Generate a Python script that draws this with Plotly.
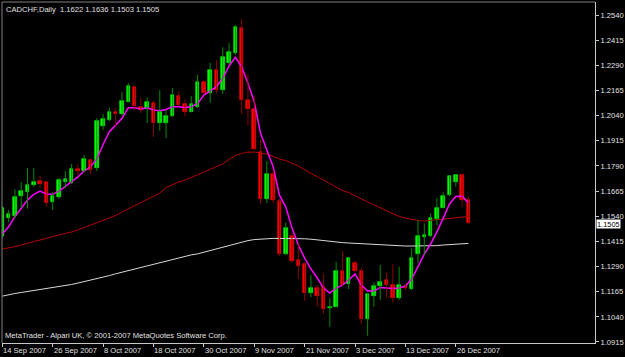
import plotly.graph_objects as go

# ---------------- data ----------------
dates_tick_idx = [0, 8, 16, 24, 32, 40, 48, 56, 64, 72]
dates_tick_text = ["14 Sep 2007", "26 Sep 2007", "8 Oct 2007", "18 Oct 2007", "30 Oct 2007",
                   "9 Nov 2007", "21 Nov 2007", "3 Dec 2007", "13 Dec 2007", "26 Dec 2007"]

price_ticks = [1.0915, 1.1040, 1.1165, 1.1290, 1.1415, 1.1540, 1.1665, 1.1790,
               1.1915, 1.2040, 1.2165, 1.2290, 1.2415, 1.2540]

opens = [1.1442, 1.1531, 1.1541, 1.1640, 1.1663, 1.1695, 1.1715, 1.1708, 1.1611, 1.1638,
         1.1710, 1.1705, 1.1777, 1.1765, 1.1819, 1.1780, 1.1988, 1.2018, 1.2056, 1.2048,
         1.2110, 1.2185, 1.2083, 1.2073, 1.2101, 1.2006, 1.2003, 1.2038, 1.2137, 1.2098,
         1.2060, 1.2083, 1.2207, 1.2152, 1.2267, 1.2167, 1.2301, 1.2351, 1.2474, 1.2118,
         1.2071, 1.1861, 1.1626, 1.1750, 1.1617, 1.1352, 1.1442, 1.1322, 1.1302, 1.1160,
         1.1183, 1.1190, 1.1085, 1.1090, 1.1268, 1.1202, 1.1306, 1.1268, 1.1029, 1.1145,
         1.1195, 1.1223, 1.1198, 1.1132, 1.1195, 1.1178, 1.1351, 1.1437, 1.1443, 1.1526,
         1.1582, 1.1645, 1.1712, 1.1745, 1.1622]
highs = [1.1591, 1.1571, 1.1675, 1.1710, 1.1780, 1.1780, 1.1740, 1.1710, 1.1660, 1.1730,
         1.1765, 1.1800, 1.1800, 1.1844, 1.1824, 1.2028, 1.2048, 1.2080, 1.2079, 1.2157,
         1.2202, 1.2192, 1.2128, 1.2132, 1.2113, 1.2167, 1.2068, 1.2177, 1.2159, 1.2120,
         1.2137, 1.2242, 1.2217, 1.2303, 1.2316, 1.2380, 1.2402, 1.2490, 1.2519, 1.2247,
         1.2137, 1.1919, 1.1816, 1.1770, 1.1626, 1.1508, 1.1457, 1.1402, 1.1312, 1.1248,
         1.1198, 1.1256, 1.1135, 1.1314, 1.1367, 1.1337, 1.1317, 1.1283, 1.1158, 1.1212,
         1.1298, 1.1261, 1.1302, 1.1289, 1.1207, 1.1381, 1.1521, 1.1505, 1.1554, 1.1632,
         1.1659, 1.1742, 1.1745, 1.1752, 1.1636]
lows = [1.1432, 1.1511, 1.1531, 1.1581, 1.1578, 1.1685, 1.1680, 1.1591, 1.1571, 1.1626,
        1.1680, 1.1700, 1.1745, 1.1760, 1.1750, 1.1765, 1.1969, 1.2013, 1.1988, 1.2038,
        1.2108, 1.2068, 1.2053, 1.2003, 1.1934, 1.1965, 1.1929, 1.2033, 1.2088, 1.2038,
        1.2058, 1.2078, 1.2147, 1.2104, 1.2152, 1.2147, 1.2296, 1.2341, 1.2048, 1.1993,
        1.1869, 1.1601, 1.1606, 1.1606, 1.1342, 1.1347, 1.1309, 1.1228, 1.1120, 1.1138,
        1.1089, 1.1054, 1.0991, 1.1089, 1.1190, 1.1178, 1.1263, 1.1003, 1.0946, 1.1090,
        1.1124, 1.1132, 1.1112, 1.1124, 1.1173, 1.1173, 1.1306, 1.1347, 1.1437, 1.1496,
        1.1581, 1.1640, 1.1687, 1.1587, 1.1503]
closes = [1.1581, 1.1551, 1.1636, 1.1665, 1.1695, 1.1710, 1.1700, 1.1606, 1.1640, 1.1720,
          1.1725, 1.1777, 1.1765, 1.1824, 1.1770, 1.2013, 1.2021, 1.2059, 1.2047, 1.2113,
          1.2187, 1.2088, 1.2068, 1.2108, 1.2006, 1.2059, 1.2038, 1.2142, 1.2093, 1.2060,
          1.2098, 1.2209, 1.2152, 1.2267, 1.2167, 1.2333, 1.2358, 1.2479, 1.2118, 1.2073,
          1.1873, 1.1624, 1.1750, 1.1621, 1.1352, 1.1480, 1.1319, 1.1293, 1.1160, 1.1185,
          1.1143, 1.1079, 1.1087, 1.1268, 1.1198, 1.1331, 1.1268, 1.1028, 1.1152, 1.1195,
          1.1215, 1.1198, 1.1132, 1.1198, 1.1182, 1.1331, 1.1442, 1.1447, 1.1530, 1.1582,
          1.1642, 1.1740, 1.1745, 1.1621, 1.1505]

ma_fast = [1.1452, 1.1488, 1.1538, 1.1579, 1.1621, 1.1649, 1.1665, 1.1650, 1.1649, 1.1665,
           1.1687, 1.1712, 1.1736, 1.1765, 1.1786, 1.1824, 1.1897, 1.1960, 1.1993, 1.2027,
           1.2079, 1.2079, 1.2073, 1.2079, 1.2068, 1.2064, 1.2071, 1.2084, 1.2084, 1.2081,
           1.2084, 1.2101, 1.2142, 1.2164, 1.2184, 1.2225, 1.2287, 1.2330, 1.2283, 1.2201,
           1.2109, 1.1952, 1.1869, 1.1786, 1.1645, 1.1587, 1.1481, 1.1397, 1.1332, 1.1278,
           1.1233, 1.1183, 1.1158, 1.1183, 1.1198, 1.1223, 1.1253, 1.1198, 1.1168, 1.1168,
           1.1186, 1.1183, 1.1181, 1.1183, 1.1193, 1.1228, 1.1288, 1.1352, 1.1402, 1.1462,
           1.1531, 1.1601, 1.1638, 1.1640, 1.1606]
ma_mid = [1.1377, 1.1382, 1.1389, 1.1397, 1.1404, 1.1414, 1.1422, 1.1432, 1.1439, 1.1447,
          1.1454, 1.1462, 1.1472, 1.1484, 1.1496, 1.1506, 1.1519, 1.1531, 1.1544, 1.1561,
          1.1576, 1.1591, 1.1608, 1.1623, 1.1638, 1.1655, 1.1683, 1.1697, 1.1710, 1.1720,
          1.1735, 1.1746, 1.1760, 1.1772, 1.1787, 1.1800, 1.1822, 1.1842, 1.1852, 1.1859,
          1.1859, 1.1855, 1.1849, 1.1837, 1.1824, 1.1817, 1.1804, 1.1790, 1.1772, 1.1752,
          1.1737, 1.1718, 1.1703, 1.1685, 1.1668, 1.1658, 1.1640, 1.1626, 1.1611, 1.1596,
          1.1581, 1.1566, 1.1551, 1.1539, 1.1531, 1.1524, 1.1519, 1.1516, 1.1519, 1.1524,
          1.1526, 1.1529, 1.1534, 1.1536, 1.1539]
ma_slow = [1.1143, 1.1151, 1.1156, 1.1161, 1.1166, 1.1169, 1.1173, 1.1178, 1.1183, 1.1188,
           1.1195, 1.1201, 1.1208, 1.1215, 1.1223, 1.1230, 1.1238, 1.1245, 1.1254, 1.1262,
           1.1270, 1.1279, 1.1287, 1.1294, 1.1301, 1.1310, 1.1317, 1.1326, 1.1333, 1.1341,
           1.1348, 1.1353, 1.1361, 1.1370, 1.1377, 1.1385, 1.1393, 1.1403, 1.1412, 1.1419,
           1.1424, 1.1427, 1.1429, 1.1430, 1.1430, 1.1430, 1.1429, 1.1429, 1.1428, 1.1426,
           1.1422, 1.1419, 1.1416, 1.1412, 1.1409, 1.1407, 1.1405, 1.1404, 1.1402, 1.1399,
           1.1397, 1.1395, 1.1393, 1.1392, 1.1392, 1.1392, 1.1392, 1.1392, 1.1392, 1.1394,
           1.1397, 1.1399, 1.1402, 1.1403, 1.1405]

symbol_title = "CADCHF,Daily  1.1622 1.1636 1.1503 1.1505"
footer_text = "MetaTrader - Alpari UK, © 2001-2007 MetaQuotes Software Corp."
last_price_text = "1.1505"

# ---------------- figure ----------------
FONT = "Liberation Sans, Arial, sans-serif"
TXT = "#E0E0E0"
idx = list(range(len(opens)))
up = [c >= o for o, c in zip(opens, closes)]

fig = go.Figure()

# moving averages (behind candles)
fig.add_trace(go.Scatter(x=idx, y=ma_slow, mode="lines",
                         line=dict(color="#D8D8D8", width=1), hoverinfo="skip"))
fig.add_trace(go.Scatter(x=idx, y=ma_mid, mode="lines",
                         line=dict(color="#B40000", width=1), hoverinfo="skip"))
fig.add_trace(go.Scatter(x=idx, y=ma_fast, mode="lines",
                         line=dict(color="#FF00FF", width=1.5), hoverinfo="skip"))

# wicks
for is_up, col in ((True, "#008C00"), (False, "#8C0000")):
    wx, wy = [], []
    for i in idx:
        if up[i] == is_up:
            wx += [i, i, None]
            wy += [lows[i], highs[i], None]
    fig.add_trace(go.Scatter(x=wx, y=wy, mode="lines", line=dict(color=col, width=1),
                             hoverinfo="skip"))

# bodies
base = [min(o, c) for o, c in zip(opens, closes)]
height = [abs(c - o) for o, c in zip(opens, closes)]
colors = ["#00FF00" if u else "#FF0000" for u in up]
fig.add_trace(go.Bar(x=idx, y=height, base=base, width=0.56,
                     marker=dict(color=colors, line=dict(color=colors, width=0.6)),
                     hoverinfo="skip"))

# x date labels, left aligned at their tick like MetaTrader
for t, s in zip(dates_tick_idx, dates_tick_text):
    fig.add_annotation(x=t, y=0, xref="x", yref="paper", text=s, showarrow=False,
                       xanchor="left", yanchor="top", xshift=-1, yshift=-1,
                       font=dict(family=FONT, size=7.6, color=TXT))

fig.add_annotation(x=0, y=1, xref="paper", yref="paper", text=symbol_title, showarrow=False,
                   xanchor="left", yanchor="top", xshift=2, yshift=-1,
                   font=dict(family=FONT, size=7.6, color=TXT))
fig.add_annotation(x=0, y=0, xref="paper", yref="paper", text=footer_text, showarrow=False,
                   xanchor="left", yanchor="bottom", xshift=1, yshift=1,
                   font=dict(family=FONT, size=7.6, color=TXT))
fig.add_annotation(x=1, y=closes[-1], xref="paper", yref="y", text=last_price_text,
                   showarrow=False, xanchor="left", yanchor="middle", xshift=1, yshift=-1,
                   height=8, borderpad=0, bgcolor="#FFFFFF",
                   font=dict(family=FONT, size=7.4, color="#000000"))

# frame lines (left / top gray)
fig.add_shape(type="line", xref="paper", yref="paper", x0=0, x1=0, y0=0, y1=1,
              line=dict(color="#808080", width=1))
fig.add_shape(type="line", xref="paper", yref="paper", x0=0, x1=1, y0=1, y1=1,
              line=dict(color="#808080", width=1))

fig.update_layout(
    width=625, height=357,
    margin=dict(l=2, r=30, t=2, b=14),
    paper_bgcolor="#000000", plot_bgcolor="#000000",
    showlegend=False, barmode="overlay", bargap=0,
    font=dict(family=FONT, size=7.6, color=TXT),
    xaxis=dict(range=[-0.05, 94.1], showgrid=False, zeroline=False,
               showline=True, linecolor="#C8C8C8", linewidth=1,
               tickmode="array", tickvals=dates_tick_idx, ticktext=[""] * len(dates_tick_idx),
               ticks="outside", ticklen=3, tickcolor="#C8C8C8", tickwidth=1,
               fixedrange=True),
    yaxis=dict(range=[1.0910, 1.2605], side="right", showgrid=False, zeroline=False,
               showline=True, linecolor="#C8C8C8", linewidth=1,
               tickmode="array", tickvals=price_ticks,
               ticktext=[f"{v:.4f}" for v in price_ticks],
               ticks="outside", ticklen=3, tickcolor="#C8C8C8", tickwidth=1,
               tickfont=dict(family=FONT, size=7.6, color=TXT),
               fixedrange=True),
)

fig.write_html("out.html")
